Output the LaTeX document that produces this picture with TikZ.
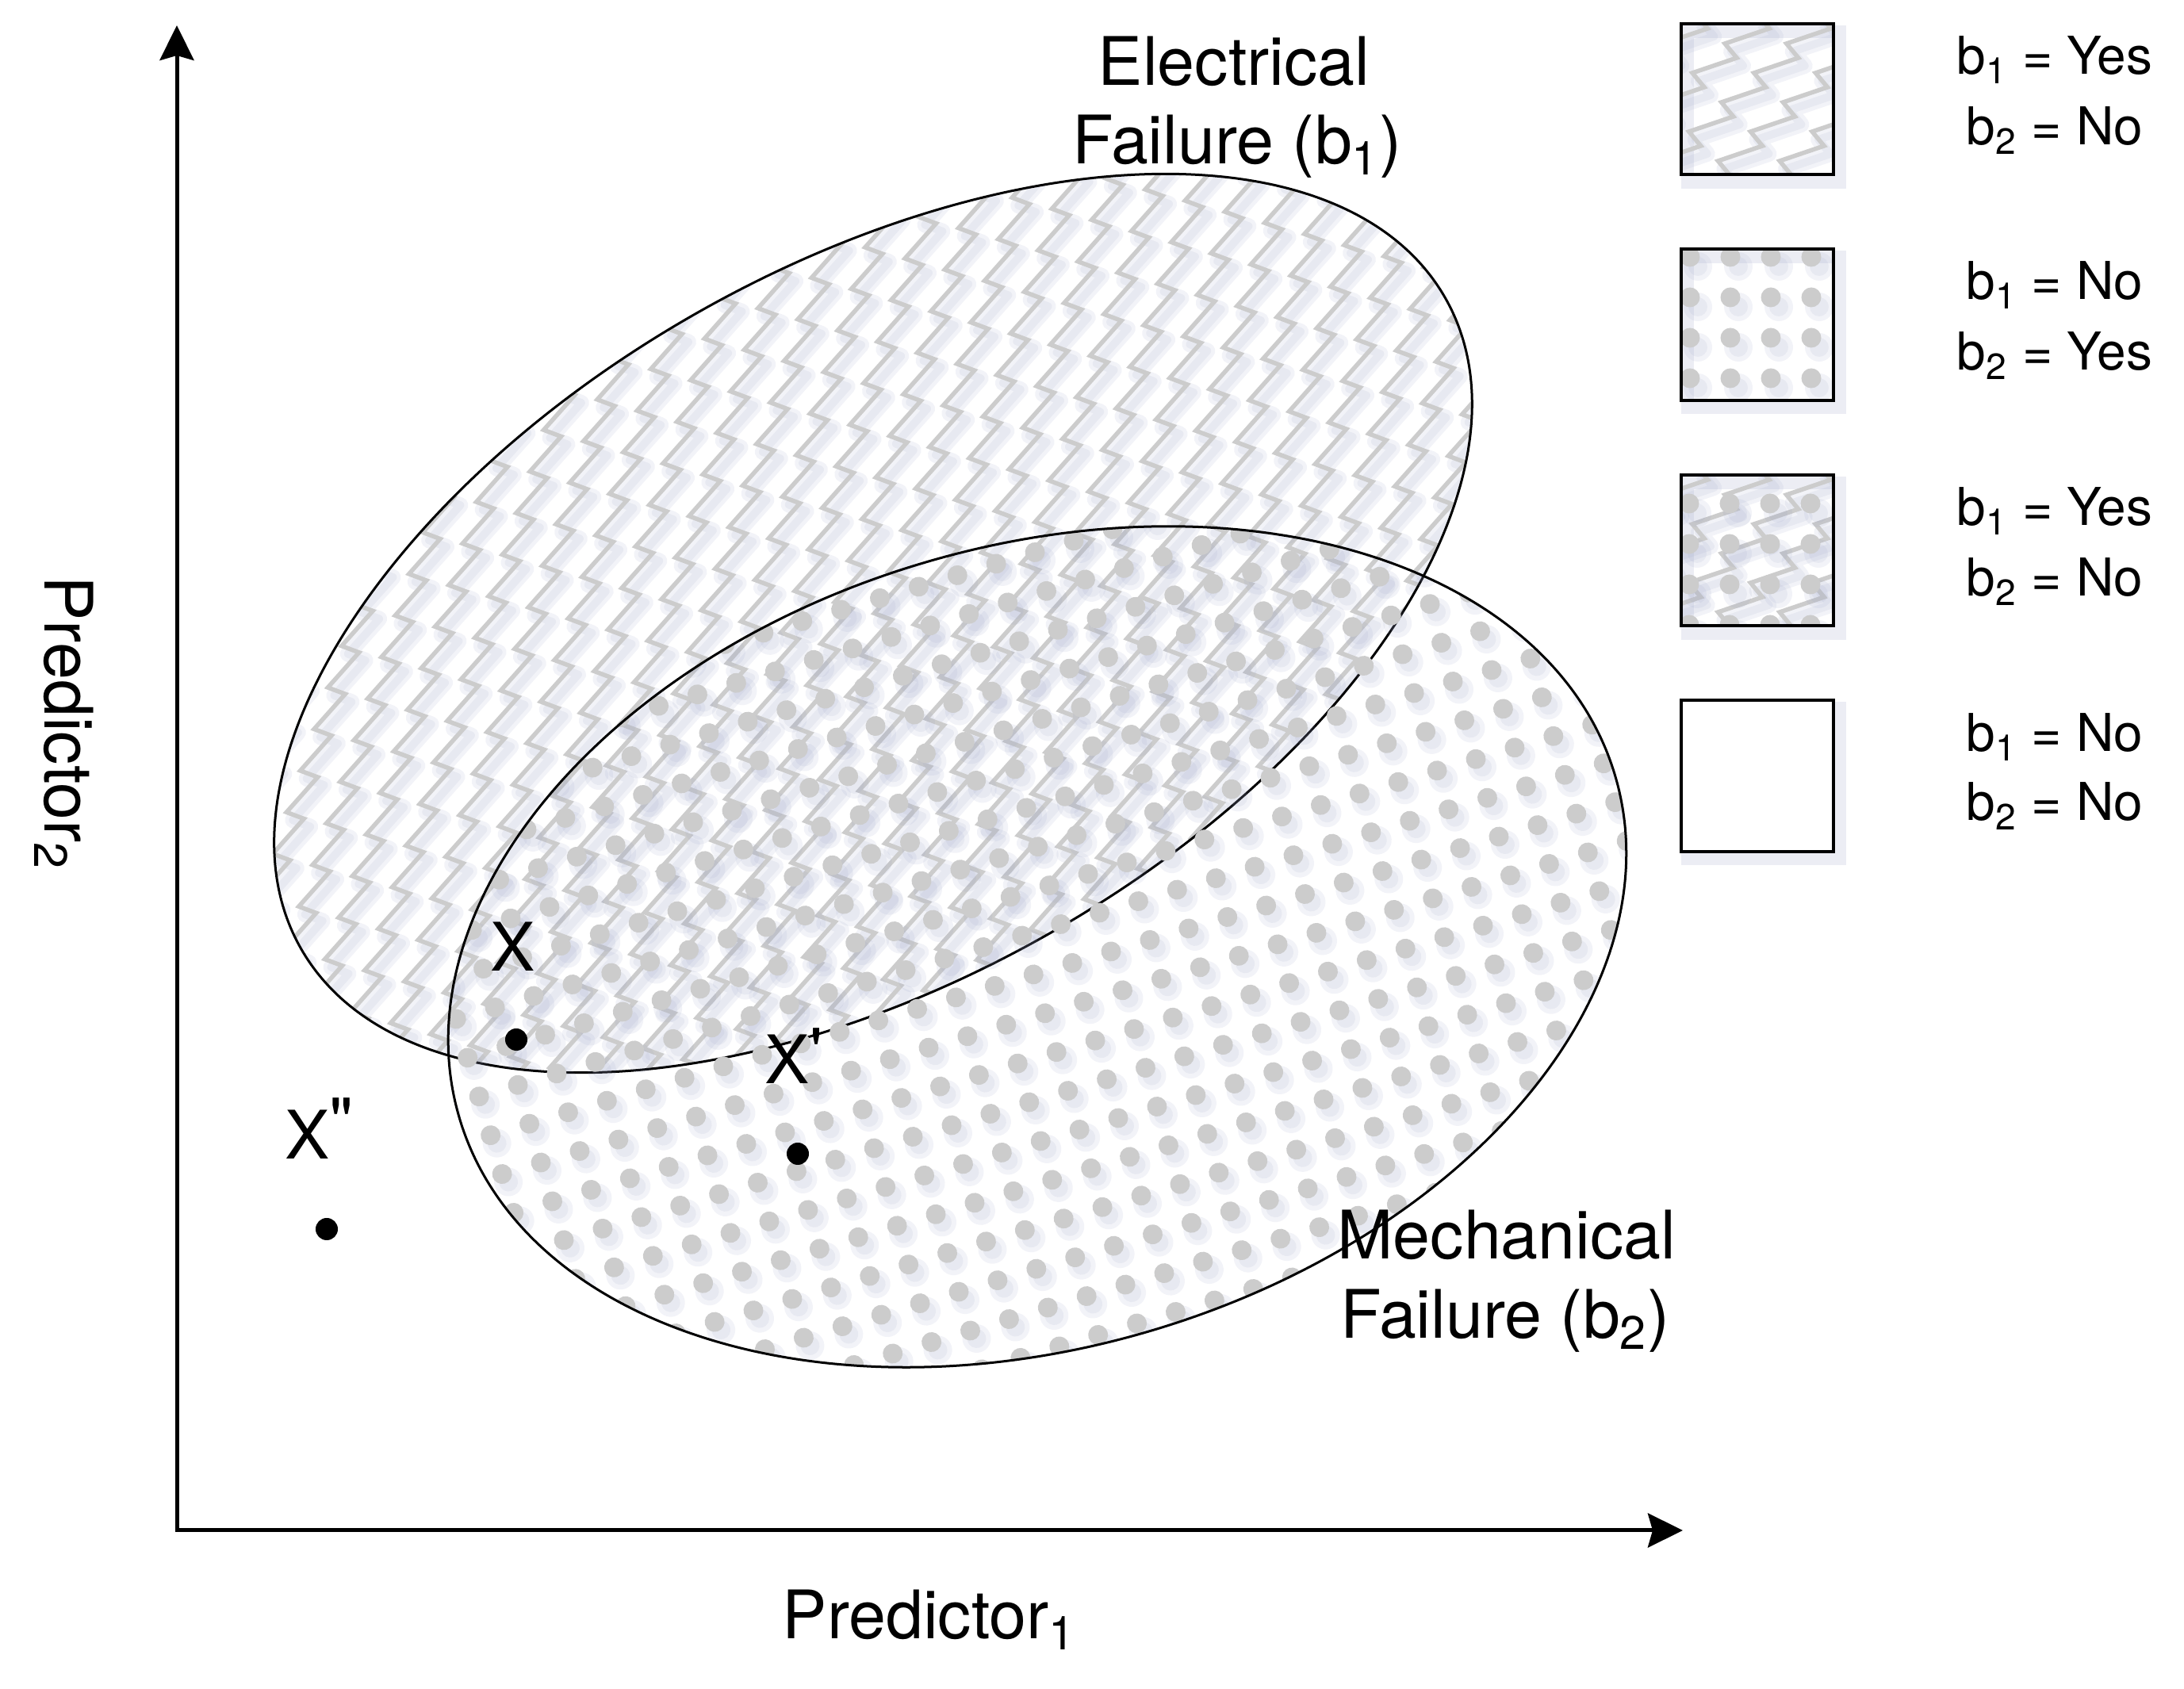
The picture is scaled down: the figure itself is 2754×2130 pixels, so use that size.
\documentclass[tikz,border=0pt]{standalone}
\usepackage{fontspec}
\setmainfont{TeX Gyre Heros}
\usetikzlibrary{arrows.meta}
\definecolor{zgray}{RGB}{204,204,204}
\definecolor{shc}{RGB}{150,158,195}
\begin{document}
\begin{tikzpicture}[x=0.01cm, y=0.01cm,
  zigc/.style={draw=zgray, line width=0.055cm, line join=miter},
  zigsh/.style={draw=shc, line width=0.2cm, opacity=0.12, line join=round},
  zigshb/.style={draw=shc, line width=0.1cm, opacity=0.12, line join=round},
  dotc/.style={fill=zgray},
  dotsh/.style={fill=shc, opacity=0.12},
  outl/.style={draw=black, line width=0.03cm},
  axisline/.style={draw=black, line width=0.05cm, line join=miter,
     {Stealth[length=0.44cm,width=0.43cm,inset=0.06cm]}-{Stealth[length=0.44cm,width=0.43cm,inset=0.06cm]}},
  lbl/.style={font=\fontsize{24}{28}\selectfont, inner sep=0pt},
  leg/.style={font=\fontsize{18.7}{22}\selectfont, inner sep=0pt},
  legbox/.style={draw=black, line width=0.04cm, minimum width=1.92cm, minimum height=1.9cm, inner sep=0pt},
  boxsh/.style={draw=shc, line width=0.16cm, opacity=0.18},
  ptdot/.style={circle, fill=black, inner sep=0pt, minimum size=0.28cm}
]
\useasboundingbox (0,0) rectangle (2754,2130);
\coordinate (E) at (1101,1344);
\coordinate (M) at (1308,936);

% ---- Electrical failure region: zigzag pattern
\begin{scope}[shift={(E)}, rotate=29.6]
  \clip (0,0) ellipse [x radius=830, y radius=450];
  \begin{scope}[shift={(2.02,-12.65)}]
    \foreach \i in {-10,...,26} {
      \draw[zigsh] ({-1229.1+77.7*\i}, -544.8) \foreach \k in {1,...,28} { -- ++(56,19) -- ++(-15,18) };
      \draw[zigshb] ({-1229.1+77.7*\i}, -544.8) \foreach \k in {1,...,28} { -- ++(56,19) -- ++(-15,18) };
    }
  \end{scope}
  \foreach \i in {-10,...,26} {
    \draw[zigc] ({-1229.1+77.7*\i}, -544.8) \foreach \k in {1,...,28} { -- ++(56,19) -- ++(-15,18) };
  }
\end{scope}
\draw[outl, rotate around={29.6:(E)}] (E) ellipse [x radius=830, y radius=450];

% ---- Mechanical failure region: dot pattern
\begin{scope}[shift={(M)}, rotate=16.5]
  \clip (0,0) ellipse [x radius=760, y radius=505];
  \foreach \i in {-16,...,15} {
    \foreach \j in {-11,...,10} {
      \fill[dotsh] ({51*\i+36.5+4.83}, {51*\j+18.9-11.86}) circle [radius=18];
      \fill[dotsh] ({51*\i+36.5+4.83}, {51*\j+18.9-11.86}) circle [radius=12];
    }
  }
  \foreach \i in {-16,...,15} {
    \foreach \j in {-11,...,10} {
      \fill[dotc] ({51*\i+36.5}, {51*\j+18.9}) circle [radius=12.5];
    }
  }
\end{scope}
\draw[outl, rotate around={16.5:(M)}] (M) ellipse [x radius=760, y radius=505];

% ---- Axes
\coordinate (O) at (223,200);
\coordinate (ytip) at (223,2098);
\coordinate (xtip) at (2122,200);
\draw[axisline] (ytip) -- (O) -- (xtip);

\node[lbl, anchor=base] (p1) at (1172,63) {Predictor\textsubscript{1}};
\node[lbl, anchor=base, rotate=-90] (p2) at (57,1218) {Predictor\textsubscript{2}};

% ---- Region labels
\node[lbl, anchor=base] (el1) at (1556,2022) {Electrical};
\node[lbl, anchor=base] (el2) at (1560,1923) {Failure (b\textsubscript{1})};
\node[lbl, anchor=base] (me1) at (1900,542) {Mechanical};
\node[lbl, anchor=base] (me2) at (1898,442) {Failure (b\textsubscript{2})};

% ---- Points
\node[ptdot] (px) at (651,819) {};
\node[ptdot] (pxp) at (1006,675) {};
\node[ptdot] (pxpp) at (412,580) {};
\node[lbl, anchor=base west] (lx) at (618,905) {X};
\node[lbl, anchor=base west] (lxp) at (964,763) {X\raisebox{3pt}{\textquotesingle}};
\node[lbl, anchor=base west] (lxpp) at (359,668) {X\raisebox{5pt}{\textquotedbl}};

% ---- Legend box 1 (zigzag)
\draw[boxsh] (2128,1900) rectangle (2320,2090);
\begin{scope}
  \clip (2120,1910) rectangle (2312,2100);
  \foreach \i in {-2,...,4} {
    \draw[zigsh] ({1978+77.7*\i}, 1880) \foreach \k in {1,...,6} { -- ++(56,19) -- ++(-15,18) };
    \draw[zigshb] ({1978+77.7*\i}, 1880) \foreach \k in {1,...,6} { -- ++(56,19) -- ++(-15,18) };
  }
  \foreach \i in {-2,...,4} {
    \draw[zigc] ({1970+77.7*\i}, 1890) \foreach \k in {1,...,6} { -- ++(56,19) -- ++(-15,18) };
  }
\end{scope}
\node[legbox] (b1) at (2216,2005) {};

% ---- Legend box 2 (dots)
\draw[boxsh] (2128,1615.5) rectangle (2320,1805.5);
\begin{scope}
  \clip (2120,1625.5) rectangle (2312,1815.5);
  \foreach \k in {0,...,3} {
    \foreach \m in {0,...,3} {
      \fill[dotsh] ({2131+51*\k+10}, {1806-51*\m-12}) circle [radius=18];
      \fill[dotsh] ({2131+51*\k+10}, {1806-51*\m-12}) circle [radius=12];
    }
  }
  \foreach \k in {0,...,3} {
    \foreach \m in {0,...,3} {
      \fill[dotc] ({2131+51*\k}, {1806-51*\m}) circle [radius=12.5];
    }
  }
\end{scope}
\node[legbox] (b2) at (2216,1720.5) {};

% ---- Legend box 3 (zigzag + dots)
\draw[boxsh] (2128,1331) rectangle (2320,1521);
\begin{scope}
  \clip (2120,1341) rectangle (2312,1531);
  \foreach \i in {-2,...,4} {
    \draw[zigsh] ({1978+77.7*\i}, 1311) \foreach \k in {1,...,6} { -- ++(56,19) -- ++(-15,18) };
    \draw[zigshb] ({1978+77.7*\i}, 1311) \foreach \k in {1,...,6} { -- ++(56,19) -- ++(-15,18) };
  }
  \foreach \i in {-2,...,4} {
    \draw[zigc] ({1970+77.7*\i}, 1321) \foreach \k in {1,...,6} { -- ++(56,19) -- ++(-15,18) };
  }
  \foreach \k in {0,...,3} {
    \foreach \m in {0,...,3} {
      \fill[dotsh] ({2130+51*\k+10}, {1495-51*\m-12}) circle [radius=18];
      \fill[dotsh] ({2130+51*\k+10}, {1495-51*\m-12}) circle [radius=12];
    }
  }
  \foreach \k in {0,...,3} {
    \foreach \m in {0,...,3} {
      \fill[dotc] ({2130+51*\k}, {1495-51*\m}) circle [radius=12.5];
    }
  }
\end{scope}
\node[legbox] (b3) at (2216,1436) {};

% ---- Legend box 4 (empty)
\draw[boxsh] (2128,1046.5) rectangle (2320,1236.5);
\node[legbox, fill=white] (b4) at (2216,1151.5) {};

% ---- Legend texts
\node[leg, anchor=base] (t1a) at (2591,2036) {b\textsubscript{1} = Yes};
\node[leg, anchor=base] (t1b) at (2591,1947) {b\textsubscript{2} = No};
\node[leg, anchor=base] (t2a) at (2591,1752) {b\textsubscript{1} = No};
\node[leg, anchor=base] (t2b) at (2591,1663) {b\textsubscript{2} = Yes};
\node[leg, anchor=base] (t3a) at (2591,1467) {b\textsubscript{1} = Yes};
\node[leg, anchor=base] (t3b) at (2591,1378) {b\textsubscript{2} = No};
\node[leg, anchor=base] (t4a) at (2591,1182) {b\textsubscript{1} = No};
\node[leg, anchor=base] (t4b) at (2591,1095) {b\textsubscript{2} = No};
\end{tikzpicture}
\end{document}
